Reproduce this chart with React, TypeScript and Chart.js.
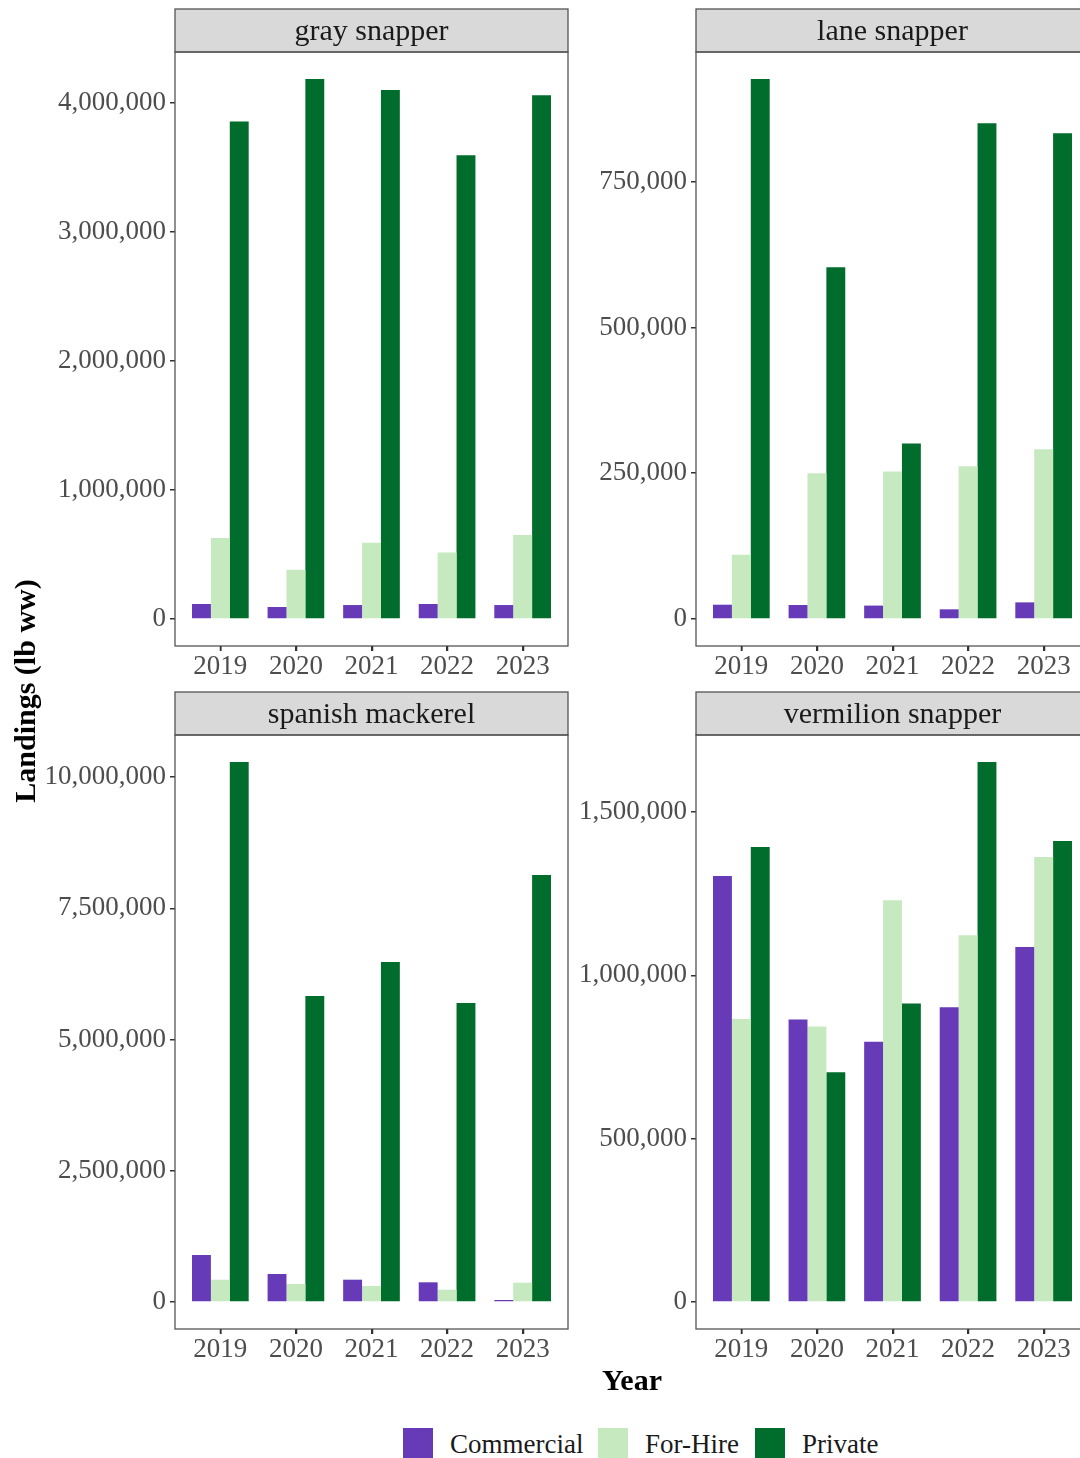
import React, { useEffect, useRef } from "react";
import { Chart, registerables } from "chart.js";

Chart.register(...registerables);

const years = [2019, 2020, 2021, 2022, 2023];
const seriesNames = ["Commercial", "For-Hire", "Private"];
const seriesColors = ["#673AB7", "#C7E9C0", "#006D2C"];

const graySnapperCommercial = [116000, 93000, 108000, 116000, 108000];
const graySnapperForHire = [627000, 381000, 590000, 516000, 650000];
const graySnapperPrivate = [3853000, 4183000, 4098000, 3592000, 4057000];
const graySnapperTicks = [0, 1000000, 2000000, 3000000, 4000000];

const laneSnapperCommercial = [24500, 24000, 23000, 16600, 28500];
const laneSnapperForHire = [110000, 250000, 253000, 262000, 291000];
const laneSnapperPrivate = [926000, 603000, 301000, 850000, 833000];
const laneSnapperTicks = [0, 250000, 500000, 750000];

const spanishMackerelCommercial = [895000, 533000, 425000, 375000, 38000];
const spanishMackerelForHire = [425000, 343000, 305000, 235000, 368000];
const spanishMackerelPrivate = [10286000, 5829000, 6476000, 5695000, 8133000];
const spanishMackerelTicks = [0, 2500000, 5000000, 7500000, 10000000];

const vermilionSnapperCommercial = [1304000, 865000, 797000, 902000, 1087000];
const vermilionSnapperForHire = [866000, 843000, 1230000, 1123000, 1362000];
const vermilionSnapperPrivate = [1393000, 703000, 914000, 1653000, 1411000];
const vermilionSnapperTicks = [0, 500000, 1000000, 1500000];

const FONT = "'Liberation Serif', 'DejaVu Serif', serif";

const STRIP_H = 43;
const CANVAS_H = 683;
const PAD_TOP = 52;
const XAXIS_H = 37;
const PANEL_W = 393;

type PanelProps = {
  title: string;
  series: number[][];
  ticks: number[];
  left: number;
  top: number;
  yAxisWidth: number;
};

function Panel({ title, series, ticks, left, top, yAxisWidth }: PanelProps) {
  const ref = useRef<HTMLCanvasElement | null>(null);
  const width = yAxisWidth + PANEL_W + 7;
  useEffect(() => {
    if (!ref.current) return;
    const all = series.flat();
    const maxV = Math.max(...all);
    const stripPlugin = {
      id: "strip" + title.replace(/\s/g, ""),
      afterDraw(chart: any) {
        const { ctx, chartArea } = chart;
        const l = chartArea.left;
        const t = chartArea.top;
        const w = chartArea.right - chartArea.left;
        const h = chartArea.bottom - chartArea.top;
        ctx.save();
        ctx.fillStyle = "#D9D9D9";
        ctx.fillRect(l, t - STRIP_H, w, STRIP_H);
        ctx.strokeStyle = "#555555";
        ctx.lineWidth = 1.3;
        ctx.strokeRect(l, t - STRIP_H, w, STRIP_H);
        ctx.strokeRect(l, t, w, h);
        // x-axis tick marks at each year
        const xs = chart.scales.x;
        ctx.strokeStyle = "#333333";
        ctx.lineWidth = 1.5;
        ctx.beginPath();
        for (const yv of years) {
          const px = Math.round(xs.getPixelForValue(yv)) + 0.5;
          ctx.moveTo(px, chartArea.bottom);
          ctx.lineTo(px, chartArea.bottom + 5);
        }
        ctx.stroke();
        ctx.fillStyle = "#1A1A1A";
        ctx.font = "30px " + FONT;
        ctx.textAlign = "center";
        ctx.textBaseline = "middle";
        ctx.fillText(title, l + w / 2, t - STRIP_H / 2 + 2);
        ctx.restore();
      },
    };
    const gridOpts = {
      display: true,
      offset: false,
      drawOnChartArea: false,
      drawTicks: true,
      tickLength: 5,
      color: "#333333",
      tickColor: "#333333",
      lineWidth: 1.5,
      tickWidth: 1.5,
    };
    const chart = new Chart(ref.current, {
      type: "bar",
      data: {
        datasets: series.map((vals, i) => ({
          label: seriesNames[i],
          data: vals.map((v, j) => ({ x: years[j], y: v })),
          backgroundColor: seriesColors[i],
          borderWidth: 0,
          categoryPercentage: 0.75,
          barPercentage: 1.0,
        })),
      },
      options: {
        animation: false,
        responsive: false,
        layout: { padding: { top: PAD_TOP, right: 7, left: 0, bottom: 0 } },
        plugins: { legend: { display: false }, tooltip: { enabled: false }, title: { display: false } },
        scales: {
          x: {
            type: "linear",
            offset: false,
            min: years[0] - 0.6,
            max: years[years.length - 1] + 0.6,
            afterBuildTicks: (s: any) => {
              s.ticks = years.map((y) => ({ value: y }));
            },
            afterFit: (s: any) => {
              s.height = XAXIS_H;
            },
            ticks: {
              callback: (v: any) => String(v),
              font: { family: FONT, size: 27 },
              color: "#4D4D4D",
              padding: 0,
              maxRotation: 0,
              autoSkip: false,
            },
            grid: gridOpts,
            border: { display: false },
          },
          y: {
            type: "linear",
            min: -0.05 * maxV,
            max: 1.05 * maxV,
            afterBuildTicks: (s: any) => {
              s.ticks = ticks.map((v) => ({ value: v }));
            },
            afterFit: (s: any) => {
              s.width = yAxisWidth;
            },
            ticks: {
              callback: (v: any) => Number(v).toLocaleString("en-US"),
              font: { family: FONT, size: 27 },
              color: "#4D4D4D",
              padding: 4,
              autoSkip: false,
            },
            grid: gridOpts,
            border: { display: false },
          },
        },
      },
      plugins: [stripPlugin],
    });
    return () => chart.destroy();
  }, []);
  return (
    <canvas
      ref={ref}
      width={width}
      height={CANVAS_H}
      style={{ position: "absolute", left, top, width, height: CANVAS_H }}
    />
  );
}

const panels = [
  { title: "gray snapper", series: [graySnapperCommercial, graySnapperForHire, graySnapperPrivate], ticks: graySnapperTicks, left: 0, top: 0, yAxisWidth: 175 },
  { title: "lane snapper", series: [laneSnapperCommercial, laneSnapperForHire, laneSnapperPrivate], ticks: laneSnapperTicks, left: 575, top: 0, yAxisWidth: 121 },
  { title: "spanish mackerel", series: [spanishMackerelCommercial, spanishMackerelForHire, spanishMackerelPrivate], ticks: spanishMackerelTicks, left: 0, top: 683, yAxisWidth: 175 },
  { title: "vermilion snapper", series: [vermilionSnapperCommercial, vermilionSnapperForHire, vermilionSnapperPrivate], ticks: vermilionSnapperTicks, left: 575, top: 683, yAxisWidth: 121 },
];

const legendX = [403, 598, 755];

export default function App() {
  return (
    <div
      style={{
        position: "absolute",
        left: 0,
        top: 0,
        width: 1080,
        height: 1458,
        overflow: "hidden",
        background: "#FFFFFF",
        fontFamily: FONT,
      }}
    >
      {panels.map((p) => (
        <Panel key={p.title} {...p} />
      ))}
      <div
        style={{
          position: "absolute",
          left: 25 - 200,
          top: 691 - 18,
          width: 400,
          height: 36,
          lineHeight: "36px",
          textAlign: "center",
          transform: "rotate(-90deg)",
          fontWeight: "bold",
          fontSize: 30,
          color: "#000",
        }}
      >
        Landings (lb ww)
      </div>
      <div
        style={{
          position: "absolute",
          left: 632 - 100,
          top: 1380 - 18,
          width: 200,
          height: 36,
          lineHeight: "36px",
          textAlign: "center",
          fontWeight: "bold",
          fontSize: 30,
          color: "#000",
        }}
      >
        Year
      </div>
      {seriesNames.map((name, i) => (
        <React.Fragment key={name}>
          <div
            style={{
              position: "absolute",
              left: legendX[i],
              top: 1428,
              width: 30,
              height: 30,
              background: seriesColors[i],
            }}
          />
          <div
            style={{
              position: "absolute",
              left: legendX[i] + 47,
              top: 1429,
              height: 30,
              lineHeight: "30px",
              fontSize: 27,
              color: "#1A1A1A",
              whiteSpace: "nowrap",
            }}
          >
            {name}
          </div>
        </React.Fragment>
      ))}
    </div>
  );
}
